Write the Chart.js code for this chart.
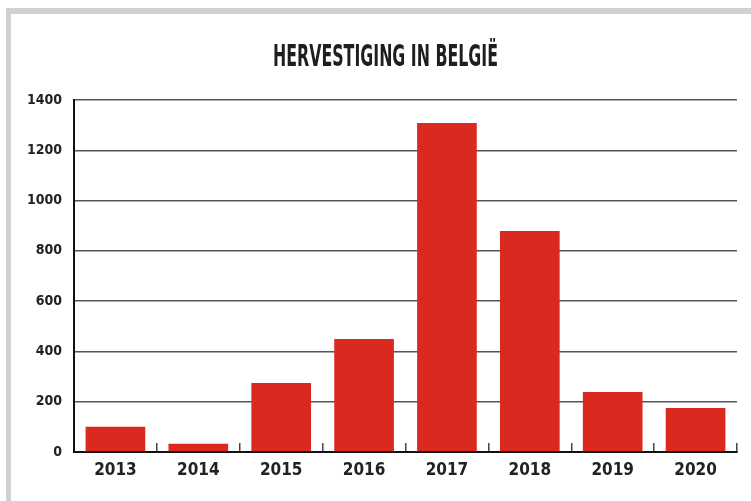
<!DOCTYPE html>
<html>
<head>
<meta charset="utf-8">
<script src="https://cdn.jsdelivr.net/npm/chart.js@4"></script>
<style>
  html, body { margin: 0; padding: 0; background: #fff; }
  body { width: 751px; height: 501px; position: relative; overflow: hidden; }
  #frame {
    position: absolute; left: 6px; top: 8px; right: 0; bottom: 0;
    border-top: 6px solid #d1d1d1; border-left: 5px solid #d1d1d1;
  }
  #title {
    position: absolute; left: 10px; width: 751px; top: 40px;
    text-align: center; white-space: nowrap;
  }
  #title span {
    display: inline-block;
    font-family: "Liberation Sans Narrow", "DejaVu Sans Condensed", sans-serif;
    font-weight: bold; font-size: 31px; line-height: 30px; color: #1e1e1e;
    transform-origin: 50% 50%;
  }
  #hervestigingChart { position: absolute; left: 0; top: 0; }
</style>
</head>
<body>
<div id="frame"></div>
<canvas id="hervestigingChart" width="751" height="501"></canvas>
<div id="title"><span>HERVESTIGING IN BELGIË</span></div>
<script>
const years = ["2013", "2014", "2015", "2016", "2017", "2018", "2019", "2020"];
const hervestiging = [100, 33, 274, 449, 1309, 879, 239, 175];
const yTicks = [0, 200, 400, 600, 800, 1000, 1200, 1400];

// squeeze the title to the narrow width of the original
const titleSpan = document.querySelector('#title span');
const w = titleSpan.getBoundingClientRect().width;
titleSpan.style.transform = 'scaleX(' + (225 / w) + ')';

const narrow = '"Liberation Sans Narrow", "DejaVu Sans Condensed", sans-serif';

const ctx = document.getElementById('hervestigingChart').getContext('2d');

const chart = new Chart(ctx, {
    type: "bar",
    data: {
        labels: years,
        datasets: [
            {
                label: "Hervestiging",
                data: hervestiging,
                backgroundColor: "#da2a1f",
                borderWidth: 0,
                barPercentage: 0.72,
                categoryPercentage: 1.0,
            },
        ],
    },
    options: {
        responsive: false,
        animation: false,
        layout: {
            padding: { left: 0, top: 100, right: 14, bottom: 0 }
        },
        scales: {
            x: {
                offset: true,
                grid: {
                    offset: true,
                    drawOnChartArea: false,
                    drawTicks: true,
                    tickLength: -9,
                    color: "#444",
                    lineWidth: 1.5,
                },
                border: { color: "#111", width: 2 },
                ticks: {
                    padding: 17,
                    color: "#222",
                    font: { family: narrow, size: 17, weight: "bold" },
                },
                afterFit: (scale) => { scale.height = 49; },
            },
            y: {
                min: 0,
                max: 1400,
                afterBuildTicks: (scale) => {
                    scale.ticks = yTicks.map(v => ({ value: v }));
                },
                grid: {
                    drawTicks: false,
                    color: "#555",
                    lineWidth: 1.5,
                },
                border: { color: "#111", width: 2 },
                ticks: {
                    padding: 12,
                    color: "#222",
                    font: { family: narrow, size: 14, weight: "bold" },
                    callback: (value) => String(value),
                },
                afterFit: (scale) => { scale.width = 74; },
            }
        },
        plugins: {
            legend: { display: false },
            tooltip: { enabled: false },
        }
    },
});
</script>
</body>
</html>
